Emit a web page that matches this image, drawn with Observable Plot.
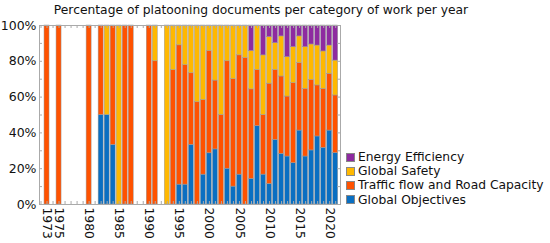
<!DOCTYPE html>
<html>
<head>
<meta charset="utf-8">
<script src="https://cdn.jsdelivr.net/npm/d3@7"></script>
<script src="https://cdn.jsdelivr.net/npm/@observablehq/plot@0.6"></script>
<style>
  html, body { margin: 0; padding: 0; background: #fff; }
  body { width: 550px; height: 243px; position: relative; overflow: hidden; font-family: "DejaVu Sans", sans-serif; }
  #title { position: absolute; left: 0; top: 0; width: 522px; height: 20px; line-height: 20px; text-align: center; font-size: 12.3px; color: #111; z-index: 2; }
  #chart { position: absolute; left: 0; top: 12px; }
  #legend { position: absolute; left: 346px; top: 150px; font-size: 12.3px; color: #111; }
  .row { height: 14.2px; line-height: 14.2px; display: flex; align-items: center; white-space: nowrap; }
  .sw { width: 7px; height: 7px; border: 0.5px solid #888; margin-right: 3px; flex: none; }
</style>
</head>
<body>
<div id="title">Percentage of platooning documents per category of work per year</div>
<div id="chart"></div>
<div id="legend"></div>
<script>
const categories = ["Global Objectives", "Traffic flow and Road Capacity", "Global Safety", "Energy Efficiency"];
const colors = ["#0a6fc2", "#ff5200", "#ffb800", "#8e2ba0"];
const legendOrder = ["Energy Efficiency", "Global Safety", "Traffic flow and Road Capacity", "Global Objectives"];

const years = [1973,1975,1980,1982,1983,1984,1985,1986,1987,1990,1991,1993,1994,
  1995,1996,1997,1998,1999,2000,2001,2002,2003,2004,2005,2006,2007,2008,2009,2010,
  2011,2012,2013,2014,2015,2016,2017,2018,2019,2020,2021];
const globalObjectives = [0,0,0,50,50,33.3,0,0,0,0,0,0,0,
  11.1,11.1,33.3,0,16.7,28.6,30.8,0,20,10,16.7,0,14.3,43.8,16.7,11.5,
  36.1,28.3,26.8,23.1,41.3,26.8,30.2,38,31.7,41.3,28.7];
const trafficFlow = [100,100,100,50,0,66.7,0,100,100,100,80,0,75,
  77.8,66.7,40,57.1,41.7,57.1,38.5,50,60,60,66.7,81.8,50,31.3,33.3,56,
  39.1,43.2,33.5,44.7,37.7,37.8,39.4,28.5,32.9,31.7,32.2];
const globalSafety = [0,0,0,0,50,0,100,0,0,0,20,100,25,
  11.1,22.2,26.7,42.9,41.7,14.3,30.8,50,20,30,16.7,18.2,21.4,25,33.3,26,
  15,22.4,22,20.1,14.9,23.3,19.8,22.3,20.9,15.8,19.5];
const energyEfficiency = [0,0,0,0,0,0,0,0,0,0,0,0,0,
  0,0,0,0,0,0,0,0,0,0,0,0,14.3,0,16.7,6.5,
  9.9,6.1,17.7,12.1,6.1,12.1,10.6,11.2,14.5,11.2,19.6];

const xTickLabels = [1973,1975,1980,1985,1990,1995,2000,2005,2010,2015,2020];
const yTickLabels = [0,0.2,0.4,0.6,0.8,1];
const yMinorTicks = [0,0.1,0.2,0.3,0.4,0.5,0.6,0.7,0.8,0.9,1];
const yearTicks = d3.range(1972, 2022);

const series = [globalObjectives, trafficFlow, globalSafety, energyEfficiency];
const table = [];
years.forEach((yr, i) => {
  categories.forEach((c, j) => {
    const v = series[j][i];
    if (v > 0) table.push({year: yr, category: c, value: v});
  });
});

const W = 550, H = 231, mL = 39, mR = 210, mT = 13, mB = 39;
const plotW = W - mL - mR, plotH = H - mT - mB;

const chart = Plot.plot({
  width: W, height: H,
  marginLeft: mL, marginRight: mR, marginTop: mT, marginBottom: mB,
  style: {fontFamily: "DejaVu Sans, sans-serif", fontSize: "12.3px", color: "#111", background: "transparent", overflow: "visible"},
  x: {domain: [1971.75, 2021.8]},
  y: {domain: [0, 1]},
  color: {domain: categories, range: colors},
  marks: [
    Plot.rectY(table, Plot.stackY({
      x1: d => d.year - 0.5, x2: d => d.year + 0.5, y: "value", z: "category",
      fill: "category", order: categories, offset: "normalize",
      insetLeft: 0.5, insetRight: 0.5, stroke: "#9a9a9a", strokeWidth: 0.5
    })),
    Plot.frame({stroke: "#aaa"}),
    Plot.tickX(yearTicks, {x: d => d, stroke: "#aaa", insetBottom: plotH - 3}),
    Plot.tickX(yearTicks, {x: d => d, stroke: "#aaa", insetTop: plotH - 3}),
    Plot.tickY(yMinorTicks, {y: d => d, stroke: "#aaa", insetLeft: plotW - 3}),
    Plot.tickY(yMinorTicks, {y: d => d, stroke: "#aaa", insetRight: plotW - 3}),
    Plot.axisY({ticks: yTickLabels, tickFormat: d3.format(".0%"), tickSize: 0, tickPadding: 3, label: null, fontSize: 12.5}),
    Plot.axisX({ticks: xTickLabels, tickFormat: d => String(d), tickRotate: 90, tickSize: 0, tickPadding: 3, label: null, fontSize: 12.3})
  ]
});
document.getElementById("chart").appendChild(chart);

const legend = document.getElementById("legend");
legendOrder.forEach(name => {
  const row = document.createElement("div");
  row.className = "row";
  const sw = document.createElement("span");
  sw.className = "sw";
  sw.style.background = colors[categories.indexOf(name)];
  const tx = document.createElement("span");
  tx.textContent = name;
  row.appendChild(sw);
  row.appendChild(tx);
  legend.appendChild(row);
});
</script>
</body>
</html>
